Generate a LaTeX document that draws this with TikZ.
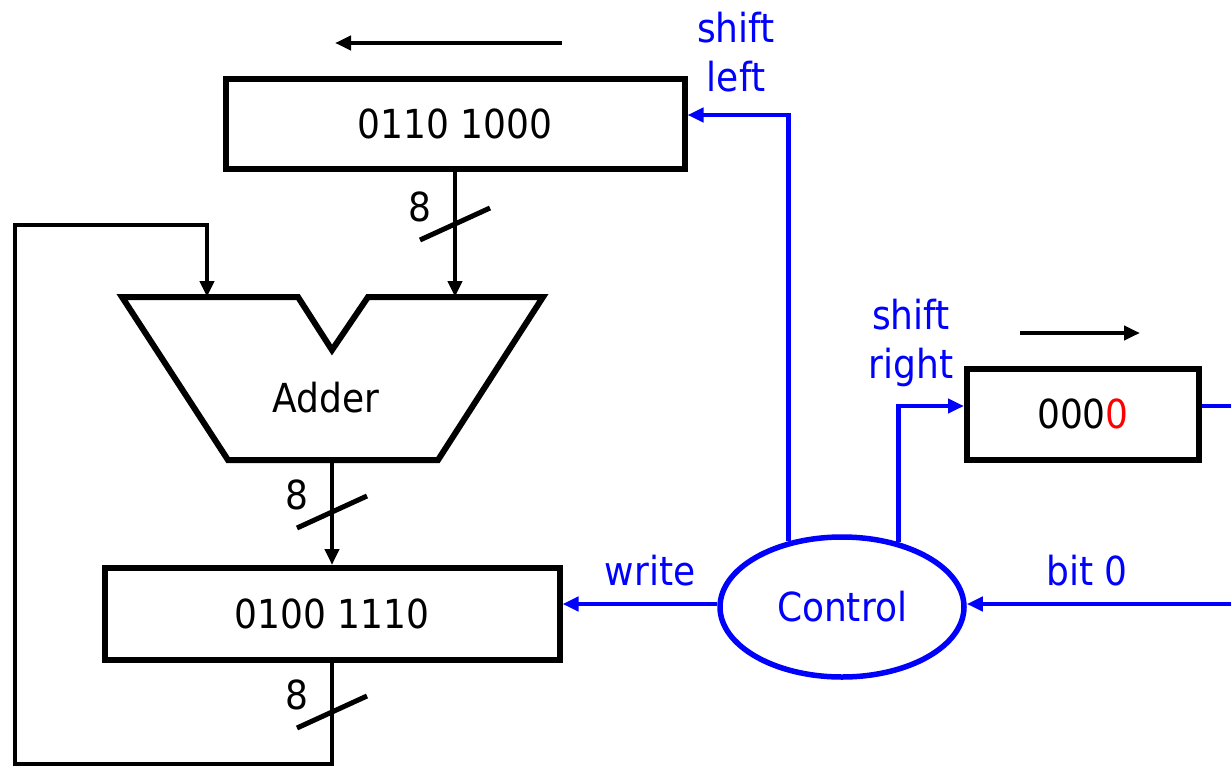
\documentclass[tikz,border=0pt]{standalone}
\usepackage{fontspec}
\setmainfont{DejaVu Sans Condensed}
\usetikzlibrary{arrows.meta,shapes.geometric}

\definecolor{ctlblue}{RGB}{0,0,255}
\def\busslashes{{(455,224)}, {(332,512)}, {(332,712)}}
\tikzstyle{every node}=[font=\fontsize{40}{49}\selectfont]
\tikzstyle{reg}=[draw,rectangle,line width=6pt,inner sep=0pt]
\tikzstyle{ctrl}=[draw=ctlblue,text=ctlblue,ellipse,line width=5.5pt,minimum width=244pt,minimum height=140pt,inner sep=0pt]
\tikzstyle{bus}=[draw,line width=4.5pt,-{Triangle[length=16pt,width=14pt]}]
\tikzstyle{sig}=[draw=ctlblue,line width=4.5pt,-{Triangle[length=16pt,width=14pt]}]
\tikzstyle{sig-label}=[text=ctlblue,align=center,inner sep=0pt]
\tikzstyle{slash}=[draw,line width=5pt]

\begin{document}
\begin{tikzpicture}[x=1pt,y=-1pt]
  \useasboundingbox (0,0) rectangle (1231,768);

  % Registers and control unit
  \node[reg,minimum width=459pt,minimum height=90pt] (upper) at (455,124) {0110 1000};
  \node[reg,minimum width=455pt,minimum height=92pt] (lower) at (332,614) {0100 1110};
  \node[reg,minimum width=232pt,minimum height=91pt] (small) at (1083,414) {000\textcolor{red}{0}};
  \node[ctrl] (control) at (842,607) {Control};

  % The adder with its notch
  \draw[line width=6pt] (122,297) -- (298,297) -- (332,350) -- (368,297)
    -- (543,297) -- (438,460) -- (228,460) -- cycle;
  \node (adder) at (326,398) {Adder};
  \coordinate (add-a) at (207,297);
  \coordinate (add-b) at (455,297);
  \coordinate (add-s) at (332,460);

  % Shift direction arrows
  \coordinate (left-tail) at (562,43);
  \coordinate (left-head) at (335,43);
  \coordinate (right-tail) at (1020,333);
  \coordinate (right-head) at (1140,333);
  \foreach \name in {left, right}
    \path[bus] (\name-tail) -- (\name-head);

  % Data paths
  \coordinate (loop-bl) at (15,764);
  \coordinate (loop-tl) at (15,225);
  \path[bus] (upper.south) -- (add-b);
  \path[bus] (add-s) -- (lower.north);
  \path[bus] (lower.south) |- (loop-bl) -- (loop-tl) -| (add-a);

  % Bus widths
  \foreach \pos in \busslashes {
    \path[slash] \pos +(-35,16) -- +(35,-16);
    \node at \pos [xshift=-35pt,yshift=17pt] {8};
  }

  % Control signals
  \coordinate (bit-in) at (1245,604);
  \coordinate (bit-out) at (1245,406);
  \path[sig] (control.129) |- ([yshift=9pt]upper.east);
  \path[sig] (control.49) |- ([yshift=8pt]small.west);
  \path[sig] ([yshift=3pt]control.west) -- ([yshift=3pt]control.west -| lower.east);
  \path[sig] (bit-in) -- ([yshift=3pt]control.east);
  \path[draw=ctlblue,line width=4.5pt] ([yshift=8pt]small.east) -- (bit-out);

  \node[sig-label] at (736,52) {shift\\left};
  \node[sig-label] at (911,343) {shift\\right};
  \node[sig-label] at (650,571) {write};
  \node[sig-label] at (1087,571) {bit 0};
\end{tikzpicture}
\end{document}
